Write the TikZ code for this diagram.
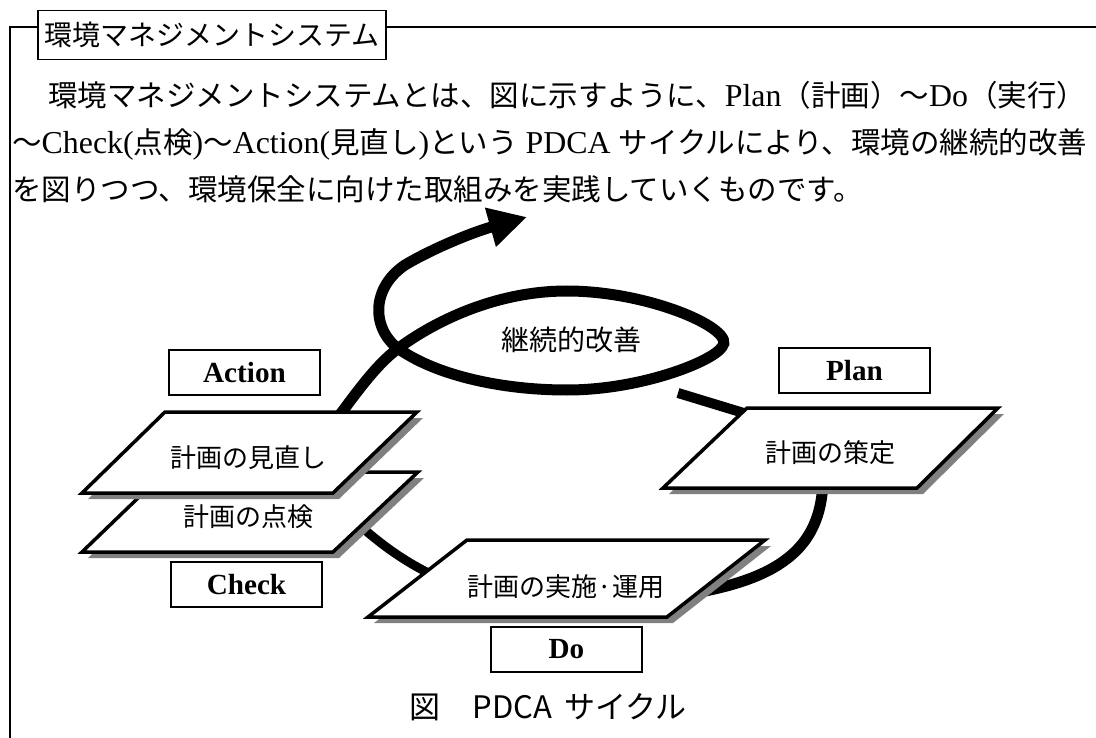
\documentclass[tikz,border=0pt]{standalone}
\usepackage{fontspec}
\setmainfont{Liberation Serif}[Scale=1.08]
\newfontfamily\jp{Noto Sans CJK JP}
\usetikzlibrary{arrows.meta}
\newcommand{\pdcaplate}[4]{%
  \fill[pgshadow] ([shift={(6,6)}]#1) -- ([shift={(6,6)}]#2) -- ([shift={(6,6)}]#3) -- ([shift={(6,6)}]#4) -- cycle;
  \draw[pgbody] (#1) -- (#2) -- (#3) -- (#4) -- cycle;}
\begin{document}
\begin{tikzpicture}[x=1pt,y=-1pt,
  frameline/.style={line width=1.5pt},
  flow/.style={line width=11pt},
  pgshadow/.style={fill=black!50, draw=none},
  pgbody/.style={fill=white, draw=black, line width=3.5pt, line join=miter},
  labelbox/.style={draw, line width=1.3pt, fill=white, minimum width=151pt, minimum height=45pt, inner sep=0pt, font=\fontsize{27}{30}\selectfont\bfseries},
  pglabel/.style={font=\jp\fontsize{26}{30}\selectfont, inner sep=0pt},
  bodytext/.style={anchor=base west, inner sep=0pt, font=\fontsize{29.5}{36}\selectfont},
]
\useasboundingbox (0,0) rectangle (1096,738);
% frame
\coordinate (fTL) at (10,27);
\coordinate (fBL) at (10,742);
\coordinate (fTR) at (1100,27);
\draw[frameline] (fBL) -- (fTL) -- (fTR);
\node[draw, line width=1.5pt, fill=white, minimum width=348pt, minimum height=49pt, inner sep=0pt, anchor=north west, font=\jp\fontsize{28}{30}\selectfont] (title) at (37,10) {環境マネジメントシステム};
% body text
\node[bodytext] (l1) at (48,107) {{\jp 環境マネジメントシステムとは、図に示すように、}Plan{\jp （計画）～}Do{\jp （実行）}};
\node[bodytext] (l2) at (12,154) {{\jp ～}Check({\jp 点検}){\jp ～}Action({\jp 見直し}){\jp という} PDCA {\jp サイクルにより、環境の継続的改善}};
\node[bodytext] (l3) at (12,201) {\jp を図りつつ、環境保全に向けた取組みを実践していくものです。};
% connector coordinates
\coordinate (loopStart) at (330,428);
\coordinate (cross) at (400,347);
\coordinate (lensTop) at (567,291);
\coordinate (lensTip) at (722,347);
\coordinate (lensBot) at (567,390);
\coordinate (arrowTip) at (527,217);
\coordinate (linkStart) at (678,393);
\coordinate (planIn) at (770,421);
\coordinate (planOut) at (823,470);
\coordinate (doInR) at (700,592);
\coordinate (checkOut) at (345,512);
\coordinate (doInL) at (455,585);
% flow curves
\draw[flow, -{Triangle[length=38pt,width=38pt]}] (loopStart) .. controls (355,395) and (375,365) .. (cross)
  .. controls (440,318) and (500,291) .. (lensTop)
  .. controls (650,291) and (738,330) .. (lensTip)
  .. controls (712,362) and (640,390) .. (lensBot)
  .. controls (500,390) and (440,375) .. (405,353)
  .. controls (372,335) and (368,290) .. (405,265)
  .. controls (430,250) and (470,233) .. (arrowTip);
\draw[line width=10pt] (linkStart) -- (planIn);
\draw[line width=11pt] (planOut) .. controls (825,540) and (790,575) .. (doInR);
\draw[line width=9pt] (checkOut) .. controls (375,540) and (405,565) .. (doInL);
% plates
\pdcaplate{82,552}{333,552}{418,472}{165,472}
\pdcaplate{82,493}{333,493}{417,412}{165,412}
\pdcaplate{663,488}{917,488}{998,408}{747,408}
\pdcaplate{368,617}{667,617}{765,540}{467,540}
\node[pglabel] (chk) at (248,517) {計画の点検};
\node[pglabel] (act) at (248,458) {計画の見直し};
\node[pglabel] (pln) at (830,453) {計画の策定};
\node[pglabel] (do) at (566,587) {計画の実施·運用};
% labels
\node[labelbox] (actL) at (244.5,372.5) {Action};
\node[labelbox] (chkL) at (246.5,584.5) {Check};
\node[labelbox] (doL) at (566.5,649.5) {Do};
\node[labelbox] (plnL) at (854.5,370.5) {Plan};
\node[font=\jp\fontsize{28}{30}\selectfont, inner sep=0pt] (kaizen) at (571,340) {継続的改善};
\node[font=\jp\fontsize{31}{34}\selectfont, inner sep=0pt] (cap) at (548,707) {図\hspace{0.05em}　PDCA\hspace{0.15em} サイクル};
\end{tikzpicture}
\end{document}
